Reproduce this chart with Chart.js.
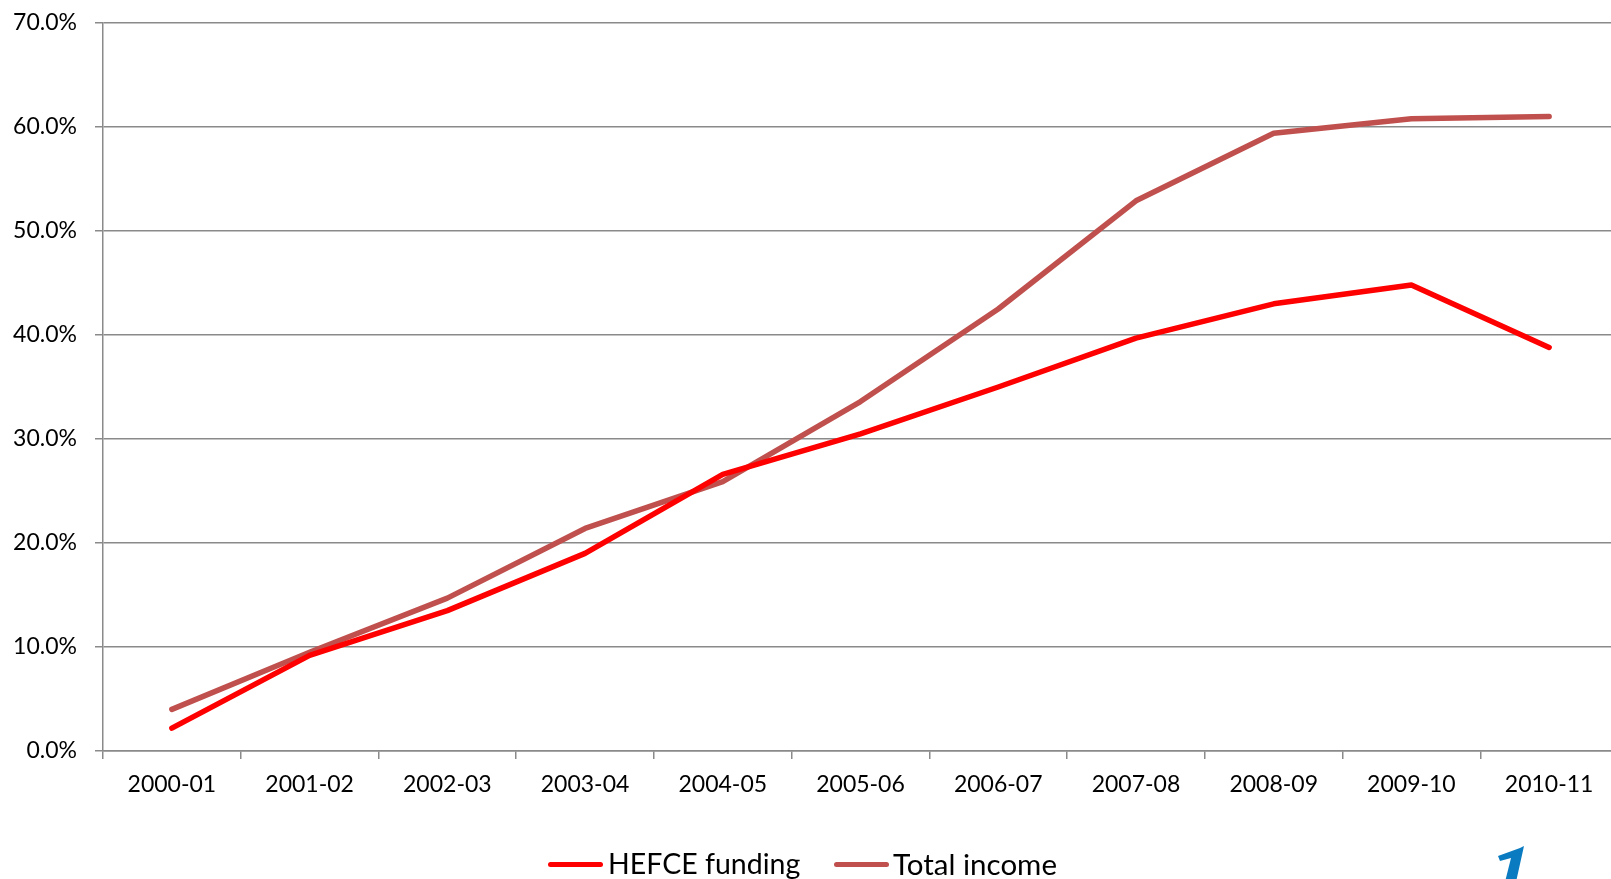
<!DOCTYPE html>
<html>
<head>
<meta charset="utf-8">
<script src="https://cdn.jsdelivr.net/npm/chart.js@4"></script>
<style>
  html, body { margin: 0; padding: 0; background: #fff; overflow: hidden; }
  #wrap { position: absolute; left: 0; top: 0; width: 1630px; height: 879px; }
  .legLine { position: absolute; height: 5px; border-radius: 3px; }
  .legText { position: absolute; font-family: Lato, sans-serif; font-size: 29px; line-height: 1; color: #000; white-space: nowrap; }
</style>
</head>
<body>
<div id="wrap">
  <canvas id="myChart" width="1630" height="879"></canvas>
</div>
<div class="legLine" style="left:548px; top:862px; width:55px; background:#ff0000;"></div>
<div class="legText" style="left:608px; top:849px; font-size:28.5px;">HEFCE funding</div>
<div class="legLine" style="left:834px; top:862px; width:55px; background:#c0504d;"></div>
<div class="legText" style="left:893px; top:849px; font-size:29.5px;">Total income</div>
<svg style="position:absolute; left:1490px; top:842px;" width="50" height="40">
  <path d="M8 14 L30 6 L34 4 L26 40 L15 40 L21 16 L10 19 Z" fill="#0b7bc1"/>
</svg>

<script>
// years on the x axis
const years = ['2000-01', '2001-02', '2002-03', '2003-04', '2004-05', '2005-06',
    '2006-07', '2007-08', '2008-09', '2009-10', '2010-11'];

// growth since 1999-00, percent
const hefceFunding = [2.2, 9.2, 13.5, 19.0, 26.6, 30.5, 35.0, 39.7, 43.0, 44.8, 38.8];
const totalIncome = [4.0, 9.5, 14.7, 21.4, 25.9, 33.6, 42.5, 52.9, 59.4, 60.8, 61.0];

const yTicks = [0, 10, 20, 30, 40, 50, 60, 70];

const gridGrey = '#8a8a8a';
const tickFont = { family: 'Lato', size: 23 };

const ctx = document.getElementById('myChart').getContext('2d');

const chart = new Chart(ctx, {
    type: 'line',
    data: {
        labels: years,
        datasets: [{
            label: 'HEFCE funding',
            data: hefceFunding,
            borderColor: '#ff0000',
            backgroundColor: '#ff0000',
            borderWidth: 5.5,
            pointRadius: 0,
            tension: 0,
            borderCapStyle: 'round',
            borderJoinStyle: 'round'
        }, {
            label: 'Total income',
            data: totalIncome,
            borderColor: '#c0504d',
            backgroundColor: '#c0504d',
            borderWidth: 5.5,
            pointRadius: 0,
            tension: 0,
            borderCapStyle: 'round',
            borderJoinStyle: 'round'
        }]
    },
    options: {
        responsive: false,
        animation: false,
        events: [],
        layout: { padding: { left: 0, right: 12, top: 23, bottom: 0 } },
        plugins: {
            legend: { display: false },
            tooltip: { enabled: false }
        },
        scales: {
            x: {
                offset: true,
                grid: {
                    offset: true,
                    drawOnChartArea: false,
                    color: gridGrey,
                    lineWidth: 1.5,
                    tickLength: 8
                },
                border: { color: gridGrey, width: 1.5 },
                ticks: { color: '#000', font: tickFont, padding: 12, maxRotation: 0, autoSkip: false },
                afterFit: function (scale) { scale.height = 128; }
            },
            y: {
                min: 0,
                max: 70,
                afterBuildTicks: function (scale) {
                    scale.ticks = yTicks.map(v => ({ value: v }));
                },
                grid: { color: gridGrey, lineWidth: 1.5, tickLength: 8 },
                border: { color: gridGrey, width: 1.5 },
                ticks: {
                    color: '#000',
                    font: tickFont,
                    padding: 18,
                    callback: v => v.toFixed(1) + '%'
                },
                afterFit: function (scale) {
                    scale.width = 103;
                    scale.paddingTop = 0;
                    scale.paddingBottom = 0;
                }
            }
        }
    }
});
</script>
</body>
</html>
